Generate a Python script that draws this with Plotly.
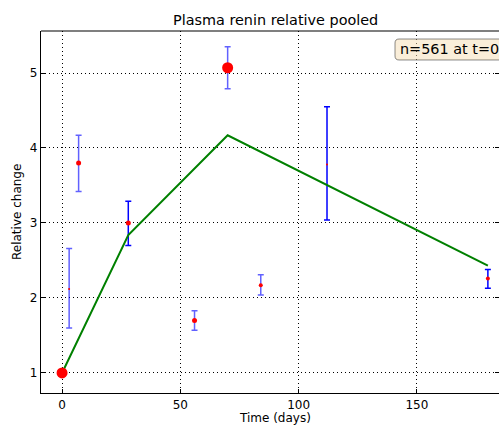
import plotly.graph_objects as go

# Data
days = [0, 3, 7, 28, 56, 70, 84, 112, 180]
means = [1.0, 2.12, 3.80, 3.00, 1.70, 5.07, 2.17, 3.78, 2.26]
upper = [1.0, 2.66, 4.17, 3.29, 1.83, 5.35, 2.31, 4.55, 2.38]
lower = [1.0, 1.60, 3.42, 2.70, 1.57, 4.79, 2.04, 3.04, 2.13]
marker_sizes = [11, 2, 5, 5, 5, 11, 4, 2, 4]
light_bars = [False, True, True, False, True, True, True, False, False]

fit_days = [0, 28, 70, 180]
fit_values = [1.0, 2.84, 4.17, 2.43]

title_text = "Plasma renin relative pooled"
xlabel = "Time (days)"
ylabel = "Relative change"
box_text = "n=561 at t=0"
xticks = [0, 50, 100, 150]
yticks = [1, 2, 3, 4, 5]

FONT = "DejaVu Sans"
W, H = 499, 426
ML, MR, MT, MB = 41, 0, 31, 33
PW, PH = W - ML - MR, H - MT - MB


def px2paper(px, py):
    return (px - ML) / PW, (H - MB - py) / PH


fig = go.Figure()

for is_light, color in [(True, "rgba(0,0,255,0.62)"), (False, "rgb(0,0,255)")]:
    xs = [d for d, l in zip(days, light_bars) if l == is_light]
    ys = [m for m, l in zip(means, light_bars) if l == is_light]
    up = [u - m for u, m, l in zip(upper, means, light_bars) if l == is_light]
    dn = [m - lo for lo, m, l in zip(lower, means, light_bars) if l == is_light]
    fig.add_trace(go.Scatter(
        x=xs, y=ys, mode="markers",
        marker=dict(size=1, color="rgba(0,0,0,0)"),
        error_y=dict(type="data", symmetric=False, array=up, arrayminus=dn,
                     color=color, thickness=1.5, width=3),
        showlegend=False, hoverinfo="skip"))

fig.add_trace(go.Scatter(x=fit_days, y=fit_values, mode="lines",
                         line=dict(color="green", width=2), showlegend=False))

fig.add_trace(go.Scatter(x=days, y=means, mode="markers",
                         marker=dict(size=marker_sizes, color="red", opacity=1,
                                     line=dict(width=0)),
                         showlegend=False))

axis_common = dict(showline=True, linecolor="black", linewidth=1.2,
                   ticks="inside", ticklen=4, tickcolor="black",
                   showgrid=True, gridcolor="black", griddash="1px,3px", gridwidth=1,
                   zeroline=False, tickfont=dict(family=FONT, size=12, color="black"))

# rounded box (pixel geometry converted to paper coordinates)
bx0, by0, bx1, by1, r = 395, 39, 515, 60, 4
def P(px, py):
    x, y = px2paper(px, py)
    return f"{x:.5f},{y:.5f}"
box_path = (f"M {P(bx0 + r, by0)} L {P(bx1 - r, by0)} Q {P(bx1, by0)} {P(bx1, by0 + r)} "
            f"L {P(bx1, by1 - r)} Q {P(bx1, by1)} {P(bx1 - r, by1)} "
            f"L {P(bx0 + r, by1)} Q {P(bx0, by1)} {P(bx0, by1 - r)} "
            f"L {P(bx0, by0 + r)} Q {P(bx0, by0)} {P(bx0 + r, by0)} Z")

fig.update_layout(
    width=W, height=H,
    margin=dict(l=ML, r=MR, t=MT, b=MB),
    paper_bgcolor="white", plot_bgcolor="white",
    font=dict(family=FONT, color="black"),
    xaxis=dict(range=[-8.9, 184.7], tickvals=xticks, mirror=False, **axis_common),
    yaxis=dict(range=[0.733, 5.56], tickvals=yticks, mirror="ticks", **axis_common),
    shapes=[
        dict(type="line", xref="paper", yref="paper", x0=0, x1=1, y0=1, y1=1,
             line=dict(color="black", width=1.2)),
        dict(type="path", xref="paper", yref="paper", path=box_path,
             fillcolor="rgba(245,222,179,0.5)", line=dict(color="rgba(0,0,0,0.45)", width=1)),
    ],
    annotations=[
        dict(text=title_text, xref="paper", yref="paper", x=0.511, y=1.0,
             xanchor="center", yanchor="bottom", yshift=1, showarrow=False,
             font=dict(family=FONT, size=14.4, color="black")),
        dict(text=xlabel, xref="paper", yref="paper", x=0.511, y=0,
             xanchor="center", yanchor="top", yshift=-16, showarrow=False,
             font=dict(family=FONT, size=12, color="black")),
        dict(text=ylabel, xref="paper", yref="paper", x=0, y=0.5,
             xanchor="right", yanchor="middle", xshift=-15, textangle=-90, showarrow=False,
             font=dict(family=FONT, size=12, color="black")),
        dict(text=box_text, xref="paper", yref="paper",
             x=px2paper(399, 0)[0], y=px2paper(0, 49.5)[1],
             xanchor="left", yanchor="middle", showarrow=False, borderpad=0,
             font=dict(family=FONT, size=14.4, color="black")),
    ],
)

fig.write_html("out.html")
